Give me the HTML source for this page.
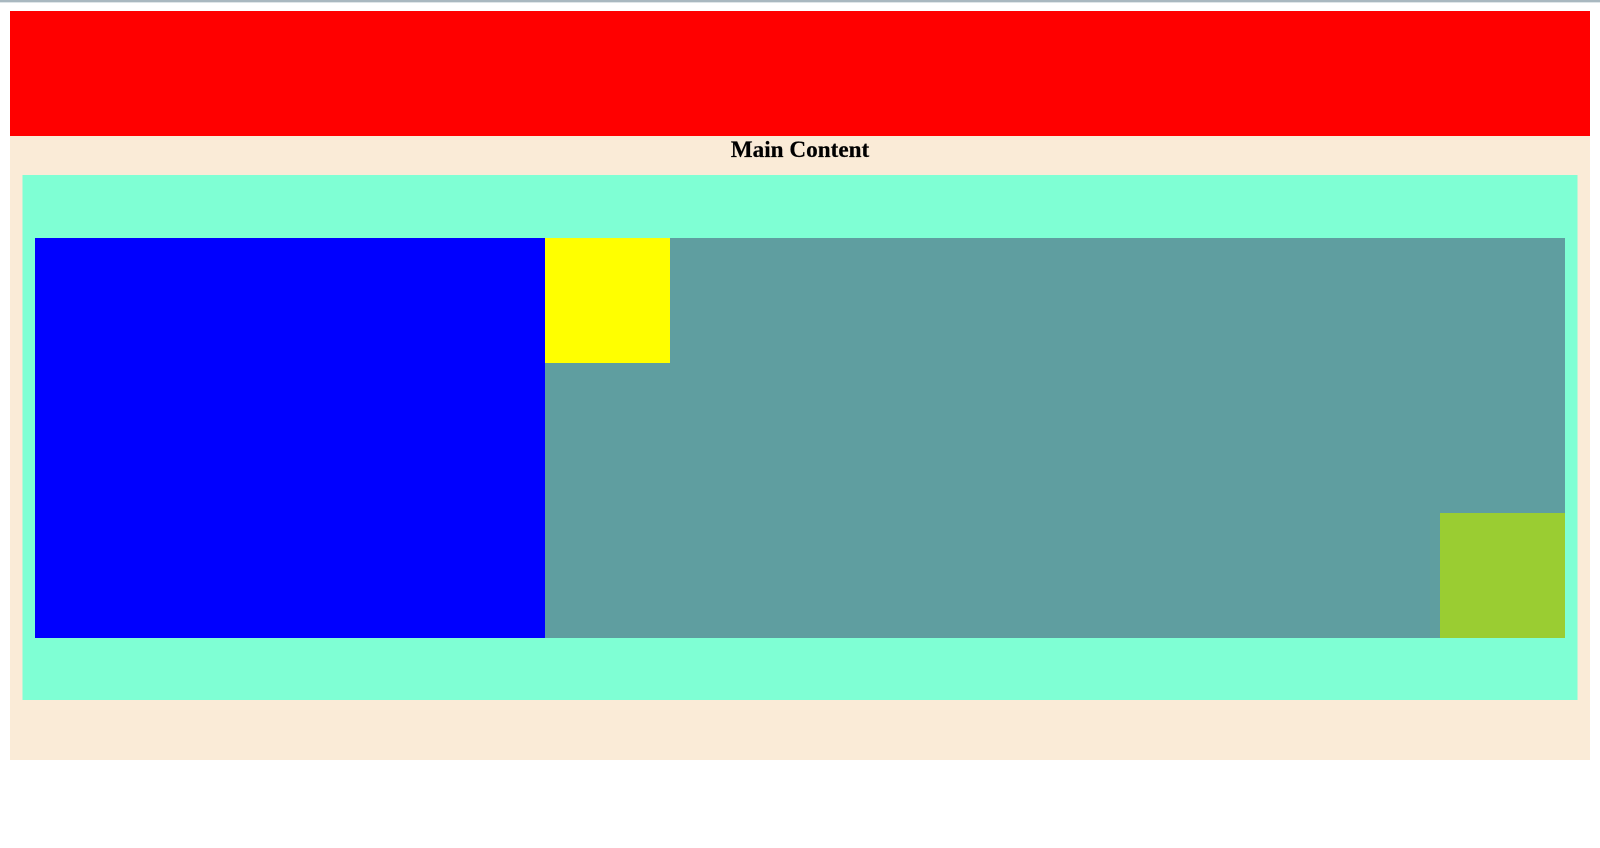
<!DOCTYPE html>
<html lang="en">
<head>
<meta charset="utf-8">
<title>Main Content</title>
<style>
  html, body { margin: 0; padding: 0; background: #ffffff; }
  body { position: relative; width: 1600px; height: 848px; overflow: hidden; }
  div, h2 { position: absolute; margin: 0; }
  #top-strip { left: 0; top: 0; width: 1600px; height: 3px;
    background: linear-gradient(to bottom, #a9b8c0 0, #a9b8c0 2px, #dfe5e8 2px, #dfe5e8 3px); }
  #header { left: 10px; top: 11px; width: 1580px; height: 125px; background: #ff0000; }
  #main { left: 10px; top: 136px; width: 1580px; height: 624px; background: #faebd7; }
  #title { left: 10px; top: 137px; width: 1580px; height: 27px; text-align: center;
    font: bold 23.2px/27px "Liberation Serif", serif; color: #000; -webkit-text-stroke: 0.2px #000; }
  #panel { left: 22px; top: 175px; width: 1556px; height: 525px; box-sizing: border-box;
    background: #7fffd4; border-left: 1px solid #bcf5d5; border-right: 1px solid #bcf5d5; }
  #content { left: 35px; top: 238px; width: 1530px; height: 400px; background: #5f9ea0; }
  #blue { left: 35px; top: 238px; width: 510px; height: 400px; background: #0000ff; }
  #yellow { left: 545px; top: 238px; width: 125px; height: 125px; background: #ffff00; }
  #green { left: 1440px; top: 513px; width: 125px; height: 125px; background: #9acd32; }
</style>
</head>
<body>
  <div id="top-strip"></div>
  <div id="header"></div>
  <div id="main"></div>
  <h2 id="title">Main Content</h2>
  <div id="panel"></div>
  <div id="content"></div>
  <div id="blue"></div>
  <div id="yellow"></div>
  <div id="green"></div>
</body>
</html>
